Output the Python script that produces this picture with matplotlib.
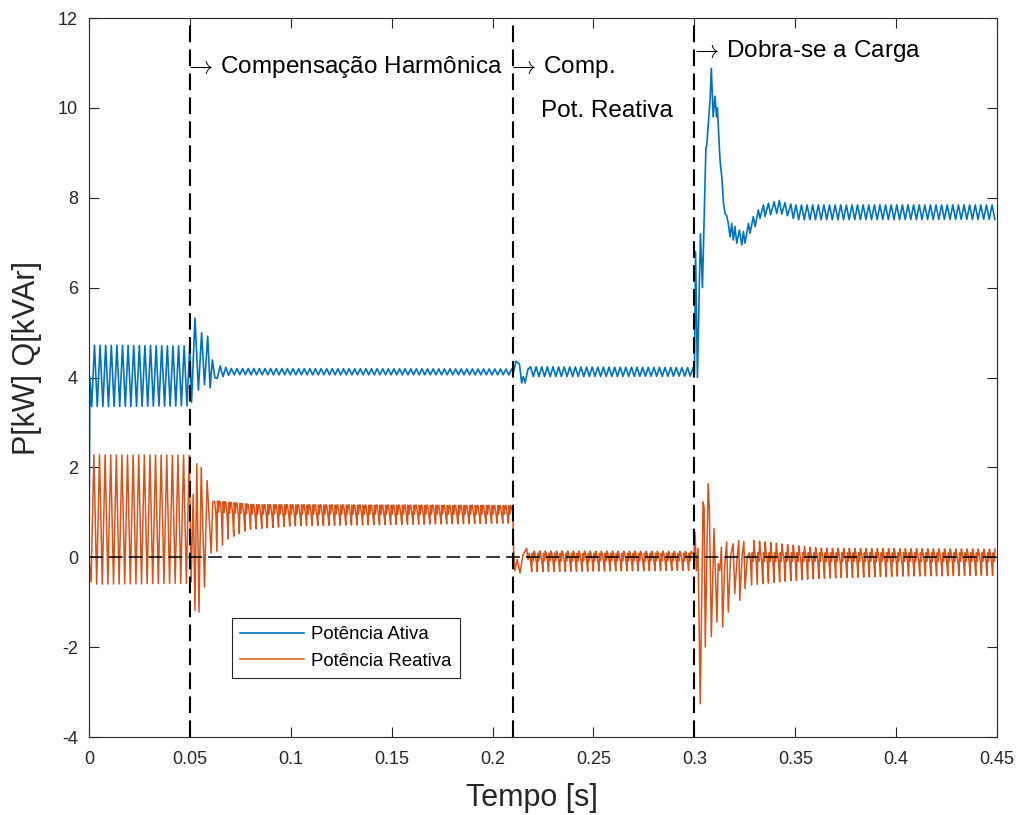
import numpy as np
import matplotlib
matplotlib.use('Agg')
import matplotlib.pyplot as plt

plt.rcParams['font.family'] = ['Liberation Sans', 'DejaVu Sans']
plt.rcParams['axes.unicode_minus'] = False
plt.rcParams['mathtext.fontset'] = 'cm'

PERIOD = 1 / 360  # ripple period of the power signals [s]
BLUE, ORANGE = '#0072BD', '#D95319'
EVENTS = [0.05, 0.21, 0.30]

# ---- active power P [kW] ----
p_start_t = [0.0, 0.0004]
p_start_v = [0.0, 4.0]
# ripple envelopes (key times, crest values) / (key times, trough values)
p_a_hi = ([0.0, 0.05], [4.72, 4.70])
p_a_lo = ([0.0, 0.05], [3.35, 3.37])
p_tr1_t = [0.0508, 0.0525, 0.0542, 0.0558, 0.0572, 0.0588, 0.0600, 0.0611, 0.0624]
p_tr1_v = [3.45, 5.32, 3.72, 5.00, 3.84, 4.92, 3.77, 4.39, 3.99]
p_b_hi = ([0.063, 0.07, 0.21], [4.28, 4.20, 4.19])
p_b_lo = ([0.063, 0.07, 0.21], [3.98, 4.06, 4.06])
p_tr2_t = [0.2103, 0.2116, 0.2133, 0.2144, 0.2152, 0.2161, 0.2175]
p_tr2_v = [4.12, 4.36, 4.30, 3.88, 4.02, 3.88, 4.18]
p_c_hi = ([0.218, 0.30], [4.24, 4.22])
p_c_lo = ([0.218, 0.30], [4.02, 4.03])
p_tr3_t = [0.3000, 0.3006, 0.3015, 0.3030, 0.3040, 0.3057, 0.3062, 0.3078, 0.3084,
           0.3093, 0.3102, 0.3110, 0.3114, 0.3127, 0.3137, 0.3144, 0.3152, 0.3160,
           0.3168, 0.3177, 0.3185, 0.3193, 0.3201, 0.3210, 0.3223, 0.3235, 0.3243,
           0.3251, 0.3268, 0.3276, 0.3292, 0.3301, 0.3317, 0.3325, 0.3342, 0.3350,
           0.3367, 0.3378, 0.3395, 0.3408, 0.3421, 0.3433, 0.3449, 0.3461, 0.3478,
           0.3490]
p_tr3_v = [4.08, 6.80, 4.00, 7.20, 6.00, 9.10, 9.20, 10.20, 10.88,
           9.80, 10.26, 9.80, 10.00, 8.84, 8.40, 7.88, 7.65, 7.60,
           7.43, 7.13, 7.43, 7.06, 7.36, 6.99, 7.28, 6.95, 7.25,
           6.99, 7.43, 7.21, 7.58, 7.36, 7.73, 7.54, 7.84, 7.58,
           7.88, 7.62, 7.91, 7.65, 7.94, 7.64, 7.89, 7.60, 7.86,
           7.54]
p_d_hi = ([0.35, 0.45], [7.84, 7.84])
p_d_lo = ([0.35, 0.45], [7.51, 7.52])

# ---- reactive power Q [kVAr] ----
q_start_t = [0.0, 0.0010]
q_start_v = [0.0, -0.55]
q_a_hi = ([0.0, 0.05], [2.28, 2.27])
q_a_lo = ([0.0, 0.05], [-0.60, -0.58])
q_tr1_t = [0.0506, 0.0516, 0.0525, 0.0534, 0.0545, 0.0556, 0.0572, 0.0585, 0.0605, 0.0613]
q_tr1_v = [-0.55, 1.40, -1.18, 2.08, -1.22, 2.00, -0.66, 1.71, 0.09, 1.23]
q_b_hi = ([0.062, 0.08, 0.21], [1.25, 1.17, 1.15])
q_b_lo = ([0.062, 0.08, 0.21], [1.00, 0.96, 0.96])
q_b_dn = ([0.062, 0.068, 0.078, 0.10, 0.15, 0.21], [0.12, 0.42, 0.62, 0.70, 0.73, 0.76])
q_b_up = q_b_hi
q_tr2_t = [0.2100, 0.2104, 0.2110, 0.2122, 0.2136, 0.2150, 0.2169, 0.2175]
q_tr2_v = [1.00, 0.16, -0.30, -0.05, -0.35, 0.05, 0.20, -0.05]
q_c_hi = ([0.218, 0.30], [0.09, 0.09])
q_c_lo = ([0.218, 0.30], [-0.08, -0.08])
q_c_dn = ([0.218, 0.30], [-0.32, -0.29])
q_c_up = ([0.218, 0.30], [0.14, 0.13])
q_tr3_t = [0.2998, 0.3003, 0.3010, 0.3018, 0.3029, 0.3043, 0.3048, 0.3054, 0.3068,
           0.3074, 0.3084, 0.3097, 0.3112, 0.3118, 0.3126, 0.3134, 0.3140, 0.3150,
           0.3160, 0.3168, 0.3180, 0.3192, 0.3200, 0.3212, 0.3220, 0.3225, 0.3237,
           0.3245, 0.3251, 0.3262]
q_tr3_v = [0.05, 0.56, -0.30, 0.20, -3.26, 1.23, 1.12, -2.00, 1.64,
           1.10, -1.77, 0.64, -1.44, -0.14, -0.30, 0.23, -1.55, -0.20,
           0.34, -1.22, 0.05, 0.30, -0.81, 0.00, 0.37, -0.96, 0.05,
           0.35, -0.70, 0.00]
q_d_hi = ([0.327, 0.45], [0.10, 0.10])
q_d_lo = ([0.327, 0.45], [-0.09, -0.09])
q_d_dn = ([0.327, 0.34, 0.36, 0.40, 0.45], [-0.62, -0.55, -0.47, -0.42, -0.40])
q_d_up = ([0.327, 0.34, 0.36, 0.45], [0.37, 0.30, 0.20, 0.18])

# one ripple cycle of Q: fraction of period -> level
Q_FRAC = [0.0, 0.22, 0.42, 0.52, 0.70, 0.84]
Q_LEVEL = ['hi', 'lo', 'dn', 'hi', 'lo', 'up']


def smooth(t0, t1, hi, lo, first='hi'):
    ts = np.arange(t0, t1, PERIOD / 2)
    odd = np.arange(len(ts)) % 2 == (0 if first == 'lo' else 1)
    vs = np.where(odd, np.interp(ts, *lo), np.interp(ts, *hi))
    return ts, vs


def spiky(t0, t1, hi, lo, dn, up):
    keys = {'hi': hi, 'lo': lo, 'dn': dn, 'up': up}
    ts, vs = [], []
    for tc in np.arange(t0, t1 - PERIOD * 0.9, PERIOD):
        for f, name in zip(Q_FRAC, Q_LEVEL):
            ts.append(tc + f * PERIOD)
            vs.append(np.interp(tc, *keys[name]))
    return np.array(ts), np.array(vs)


def join(*parts):
    t = np.concatenate([np.asarray(p[0], float) for p in parts])
    v = np.concatenate([np.asarray(p[1], float) for p in parts])
    return t, v


tp, p = join((p_start_t, p_start_v),
             smooth(0.0013, 0.0500, p_a_hi, p_a_lo, first='lo'),
             (p_tr1_t, p_tr1_v),
             smooth(0.0636, 0.2100, p_b_hi, p_b_lo, first='lo'),
             (p_tr2_t, p_tr2_v),
             smooth(0.2188, 0.2998, p_c_hi, p_c_lo, first='hi'),
             (p_tr3_t, p_tr3_v),
             smooth(0.3503, 0.4500, p_d_hi, p_d_lo, first='hi'))

tq, q = join((q_start_t, q_start_v),
             smooth(0.0024, 0.0500, q_a_hi, q_a_lo, first='hi'),
             (q_tr1_t, q_tr1_v),
             spiky(0.0622, 0.2100, q_b_hi, q_b_lo, q_b_dn, q_b_up),
             (q_tr2_t, q_tr2_v),
             spiky(0.2182, 0.2998, q_c_hi, q_c_lo, q_c_dn, q_c_up),
             (q_tr3_t, q_tr3_v),
             spiky(0.3272, 0.4500, q_d_hi, q_d_lo, q_d_dn, q_d_up))

fig = plt.figure(figsize=(10.2, 8.15), dpi=100)
ax = fig.add_axes([0.0873, 0.0957, 0.8902, 0.8822])

ax.plot(tp, p, color=BLUE, lw=1.2, label='Potência Ativa')
ax.plot(tq, q, color=ORANGE, lw=1.1, label='Potência Reativa')

ax.axhline(0, color='black', lw=1.1, dashes=(9, 4), zorder=3)
for te in EVENTS:
    ax.axvline(te, color='black', lw=1.5, dashes=(8, 3.5), zorder=3)

txt = dict(fontsize=17.5, va='center', ha='left', color='black')
ax.text(0.0473, 10.91, r'$\rightarrow\,$Compensação Harmônica', **txt)
ax.text(0.2073, 10.91, r'$\rightarrow\,$Comp.', **txt)
ax.text(0.2240, 9.93, 'Pot. Reativa', **txt)
ax.text(0.2980, 11.27, r'$\rightarrow\,$Dobra-se a Carga', **txt)

ax.set_xlim(0, 0.45)
ax.set_ylim(-4, 12)
ax.set_xticks(np.arange(0, 0.451, 0.05))
ax.set_xticklabels(['0', '0.05', '0.1', '0.15', '0.2', '0.25', '0.3', '0.35', '0.4', '0.45'])
ax.set_yticks(np.arange(-4, 12.1, 2))
ax.tick_params(direction='in', length=7, width=0.8, top=True, right=True,
               labelsize=13, colors='#262626')
ax.tick_params(axis='x', pad=10)
ax.tick_params(axis='y', pad=8)
for s in ax.spines.values():
    s.set_color('#262626')
    s.set_linewidth(0.8)

ax.set_xlabel('Tempo [s]', fontsize=22, color='#262626')
ax.xaxis.set_label_coords(0.488, -0.064)
ax.set_ylabel('P[kW] Q[kVAr]', fontsize=22, color='#262626')
ax.yaxis.set_label_coords(-0.052, 0.527)

leg = ax.legend(loc='lower left', bbox_to_anchor=(0.1575, 0.082), borderaxespad=0,
                fontsize=13.4, handlelength=3.4, handletextpad=0.4, labelspacing=0.5,
                borderpad=0.45, fancybox=False, framealpha=1, edgecolor='#262626')
leg.get_frame().set_linewidth(0.8)

fig.savefig('out.png', dpi=100)
